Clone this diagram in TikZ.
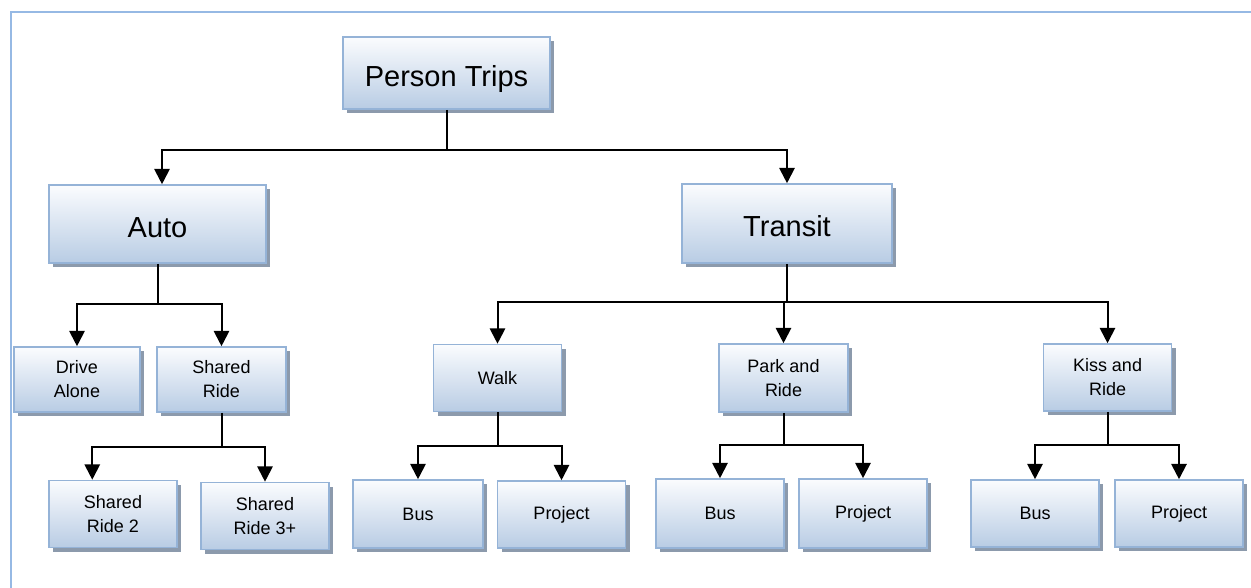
\documentclass[tikz,border=0pt]{standalone}
\usepackage{fontspec}
\setmainfont{Liberation Sans}
\usetikzlibrary{arrows.meta,shadows,calc}

\definecolor{boxtop}{RGB}{251,252,254}
\definecolor{boxbot}{RGB}{184,204,228}
\definecolor{boxline}{RGB}{149,179,215}
\definecolor{shadowcol}{RGB}{140,154,172}
\definecolor{framecol}{RGB}{150,185,228}

\tikzset{
  sz/.style 2 args={minimum width=#1*0.75pt, minimum height=#2*0.75pt},
  box/.style={rectangle, draw=boxline, line width=1.2pt,
    top color=boxtop, bottom color=boxbot, inner sep=2pt,
    align=center, text=black,
    general shadow={fill=shadowcol, shadow xshift=3pt, shadow yshift=-3pt}},
  bigbox/.style={box, font=\fontsize{21.75pt}{26pt}\selectfont,
    text height=19.8pt, text depth=0pt},
  smallbox/.style={box, sz={128}{67}, font=\fontsize{13.5pt}{18pt}\selectfont},
  link/.style={draw=black, line width=1.5pt},
  arr/.style={link, -{Triangle[length=11.5pt,width=11.5pt]}}
}

\begin{document}
\begin{tikzpicture}[x=0.75pt, y=-0.75pt]
\useasboundingbox (0,0) rectangle (1251,588);

% outer frame (left and top edges)
\draw[framecol, line width=1.5pt] (11,588) -- (11,12) -- (1251,12);

% top levels
\node[bigbox, sz={207}{72}] (pt) at (446.5,73) {Person Trips};
\node[bigbox, sz={217}{78}] (auto) at (157.5,224) {Auto};
\node[bigbox, sz={210}{79}] (transit) at (787,223.5) {Transit};

% auto branch
\node[smallbox, sz={126}{65}] (da) at (77,379.5) {Drive\\Alone};
\node[smallbox, sz={129}{65}] (sr) at (221.5,379.5) {Shared\\Ride};
\node[smallbox] (sr2) at (113,514) {Shared\\Ride 2};
\node[smallbox] (sr3) at (265,516) {Shared\\Ride 3+};

% transit branch
\node[smallbox] (walk) at (497.5,378) {Walk};
\node[smallbox, sz={129}{68}] (pr) at (783.5,378) {Park and\\Ride};
\node[smallbox] (kr) at (1107.5,377.5) {Kiss and\\Ride};

\node[smallbox, sz={130}{68}] (wbus) at (418,514) {Bus};
\node[smallbox] (wproj) at (561.5,514.5) {Project};
\node[smallbox, sz={128}{69}] (pbus) at (720,513.5) {Bus};
\node[smallbox, sz={128}{69}] (pproj) at (863,513.5) {Project};
\node[smallbox] (kbus) at (1035,513.5) {Bus};
\node[smallbox] (kproj) at (1179,513.5) {Project};

% junction points
\coordinate (jpt) at (446.5,150);
\coordinate (jauto) at (157.5,304);
\coordinate (jtransit) at (787,302);
\coordinate (jsr) at (221.5,447);
\coordinate (jwalk) at (497.5,446);
\coordinate (jpr) at (783.5,445);
\coordinate (jkr) at (1107.5,445);

% connectors
\draw[link] (pt.south) -- (jpt);
\draw[arr] (jpt) -| ($(auto.north)+(4.5,0)$);
\draw[arr] (jpt) -| (transit.north);

\draw[link] (auto.south) -- (jauto);
\draw[arr] (jauto) -| (da.north);
\draw[arr] (jauto) -| (sr.north);

\draw[link] (sr.south) -- (jsr);
\draw[arr] (jsr) -| ($(sr2.north west)!0.34!(sr2.north east)$);
\draw[arr] (jsr) -| (sr3.north);

\draw[link] (transit.south) -- (jtransit);
\draw[arr] (jtransit) -| (walk.north);
\draw[arr] (jtransit) -| (pr.north);
\draw[arr] (jtransit) -| (kr.north);

\draw[link] (walk.south) -- (jwalk);
\draw[arr] (jwalk) -| (wbus.north);
\draw[arr] (jwalk) -| (wproj.north);

\draw[link] (pr.south) -- (jpr);
\draw[arr] (jpr) -| (pbus.north);
\draw[arr] (jpr) -| (pproj.north);

\draw[link] (kr.south) -- (jkr);
\draw[arr] (jkr) -| (kbus.north);
\draw[arr] (jkr) -| (kproj.north);
\end{tikzpicture}
\end{document}
